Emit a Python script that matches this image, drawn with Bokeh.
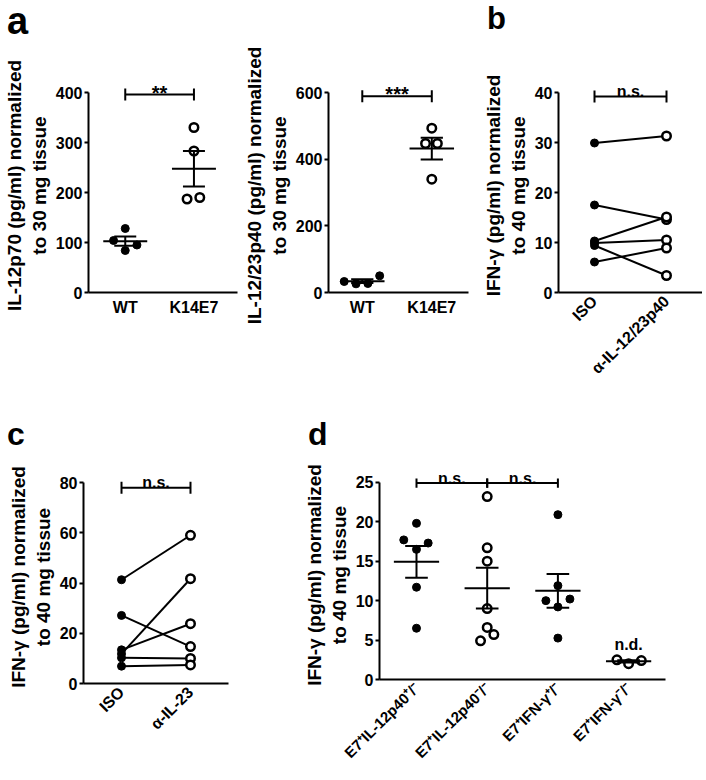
import math
import numpy as np
from bokeh.plotting import figure
from bokeh.models import FixedTicker, Range1d, Div
from bokeh.layouts import row, column
from bokeh.embed import file_html
from bokeh.resources import INLINE
from bokeh.core.properties import value

FONT = "Liberation Sans"

# ---------------- data ----------------
# panel a (left): IL-12p70
a1_groups = ["WT", "K14E7"]
a1_wt = [128, 104, 95, 84]
a1_k14 = [330, 283, 187, 190]
a1_wt_jit = [0, -0.17, 0.17, 0]
a1_k14_jit = [0, 0, -0.1, 0.085]
a1_ticks = [0, 100, 200, 300, 400]
a1_sig = "**"

# panel a (right): IL-12/23p40
a2_groups = ["WT", "K14E7"]
a2_wt = [33, 26, 27, 50]
a2_k14 = [493, 447, 447, 340]
a2_wt_jit = [-0.26, -0.09, 0.08, 0.25]
a2_k14_jit = [0, -0.09, 0.08, 0]
a2_ticks = [0, 200, 400, 600]
a2_sig = "***"

# panel b: paired ISO vs anti-IL-12/23p40
b_groups = ["ISO", "α-IL-12/23p40"]
b_iso = [29.9, 17.5, 10.3, 9.9, 9.4, 6.1]
b_anti = [31.3, 14.6, 15.1, 10.5, 3.4, 8.9]
b_ticks = [0, 10, 20, 30, 40]

# panel c: paired ISO vs anti-IL-23
c_groups = ["ISO", "α-IL-23"]
c_iso = [41.3, 27.1, 13.4, 11.8, 10.2, 6.9]
c_anti = [59.0, 14.7, 23.8, 41.7, 10.0, 7.4]
c_ticks = [0, 20, 40, 60, 80]

# panel d
d_groups = ["E7⁺IL-12p40⁺/⁻", "E7⁺IL-12p40⁻/⁻", "E7⁺IFN-γ⁺/⁻", "E7⁺IFN-γ⁻/⁻"]
d_g1 = [19.8, 17.7, 17.3, 16.5, 11.7, 6.5]
d_g2 = [23.2, 16.7, 15.0, 9.0, 6.6, 5.7, 4.9]
d_g3 = [20.9, 11.9, 10.0, 10.2, 9.2, 5.25]
d_g4 = [2.5, 2.0, 2.4]
d_g1_jit = [0, -0.18, 0.165, 0, 0, 0]
d_g2_jit = [0, 0, 0, 0, 0, 0.094, -0.094]
d_g3_jit = [0, 0, -0.17, 0.17, 0, 0]
d_g4_jit = [-0.165, 0, 0.18]
d_ticks = [0, 5, 10, 15, 20, 25]

YLAB_A1 = "IL-12p70 (pg/ml) normalized\nto 30 mg tissue"
YLAB_A2 = "IL-12/23p40 (pg/ml) normalized\nto 30 mg tissue"
YLAB_IFN = "IFN-γ (pg/ml) normalized\nto 40 mg tissue"


def make_panel(width, height, bl, br, bt, bb, xr, yr, yticks, xlabels, ylabel,
               rotate=False, xfs="16px"):
    p = figure(width=width, height=height, x_range=Range1d(*xr), y_range=Range1d(*yr),
               output_backend="svg", toolbar_location=None, tools="",
               min_border_left=bl, min_border_right=br, min_border_top=bt,
               min_border_bottom=bb)
    p.outline_line_color = None
    p.grid.visible = False
    p.background_fill_color = "white"
    p.border_fill_color = "white"
    ya = p.yaxis[0]
    ya.ticker = FixedTicker(ticks=yticks)
    ya.bounds = (yticks[0], yticks[-1])
    ya.minor_tick_line_color = None
    ya.major_tick_in = 0
    ya.major_tick_out = 4
    ya.major_tick_line_width = 2
    ya.axis_line_width = 2
    ya.major_label_standoff = 2
    ya.major_label_text_font = FONT
    ya.major_label_text_font_style = "bold"
    ya.major_label_text_font_size = "16px"
    ya.major_label_text_color = "black"
    ya.axis_label = ylabel
    ya.axis_label_text_font = FONT
    ya.axis_label_text_font_style = "bold"
    ya.axis_label_text_font_size = "19px"
    ya.axis_label_text_color = "black"
    ya.axis_label_standoff = 3
    xa = p.xaxis[0]
    xa.ticker = FixedTicker(ticks=[i + 1 for i in range(len(xlabels))])
    xa.major_label_overrides = {i + 1: lab for i, lab in enumerate(xlabels)}
    xa.major_tick_in = 0
    xa.major_tick_out = 0
    xa.minor_tick_line_color = None
    xa.axis_line_width = 2
    xa.major_label_text_font = FONT
    xa.major_label_text_font_style = "bold"
    xa.major_label_text_font_size = xfs
    xa.major_label_text_color = "black"
    xa.major_label_standoff = 6
    if rotate:
        xa.major_label_orientation = math.pi / 4
    return p


def scatter_group(p, xc, vals, jit, filled):
    xs = [xc + j for j in jit]
    if filled:
        p.scatter(xs, vals, size=8, marker="circle", fill_color="black", line_color="black")
    else:
        p.scatter(xs, vals, size=8.5, marker="circle", fill_color="white",
                  line_color="black", line_width=2.5)
    v = np.array(vals, dtype=float)
    m = v.mean()
    s = v.std(ddof=1) / math.sqrt(len(v))
    p.segment([xc - 0.32], [m], [xc + 0.32], [m], line_color="black", line_width=2)
    p.segment([xc], [m - s], [xc], [m + s], line_color="black", line_width=2)
    p.segment([xc - 0.16, xc - 0.16], [m - s, m + s], [xc + 0.16, xc + 0.16], [m - s, m + s],
              line_color="black", line_width=2)


def bracket(p, x0, x1, y, cap, label, label_dy, fs="16px"):
    p.segment([x0], [y], [x1], [y], line_color="black", line_width=2)
    p.segment([x0, x1], [y - cap, y - cap], [x0, x1], [y + cap, y + cap],
              line_color="black", line_width=2)
    p.text([(x0 + x1) / 2], [y + label_dy], text=[label], text_align="center",
           text_baseline="alphabetic", text_font=value(FONT), text_font_style="bold",
           text_font_size=fs, text_color="black")


def letter_div(txt, width, height, fs, lh, pad_left, pad_top):
    html = ("<div style=\"font-family:'Liberation Sans',Arial,sans-serif;font-weight:bold;"
            f"font-size:{fs}px;line-height:{lh}px;padding-left:{pad_left}px;"
            f"padding-top:{pad_top}px;margin:0;color:black\">{txt}</div>")
    return Div(text=html, width=width, height=height, margin=0)


def paired(p, left, right):
    for a, b in zip(left, right):
        p.line([1, 2], [a, b], line_color="black", line_width=2)
    p.scatter([1] * len(left), left, size=8, marker="circle", fill_color="black",
              line_color="black")
    p.scatter([2] * len(right), right, size=8.5, marker="circle", fill_color="white",
              line_color="black", line_width=2.5)


# ---------------- panel a1 ----------------
pa1 = make_panel(240, 360, 83, 3, 38, 108, (0.465, 2.634), (0, 428), a1_ticks, a1_groups,
                 YLAB_A1)
scatter_group(pa1, 1, a1_wt, a1_wt_jit, True)
scatter_group(pa1, 2, a1_k14, a1_k14_jit, False)
bracket(pa1, 1, 2, 396, 12, a1_sig, 4, fs="20px")

# ---------------- panel a2 ----------------
pa2 = make_panel(230, 400, 83, 2, 78, 108, (0.514, 2.528), (0, 642), a2_ticks, a2_groups,
                 YLAB_A2)
scatter_group(pa2, 1, a2_wt, a2_wt_jit, True)
scatter_group(pa2, 2, a2_k14, a2_k14_jit, False)
bracket(pa2, 1, 2, 589, 18, a2_sig, 6, fs="20px")

# ---------------- panel b ----------------
pb = make_panel(232, 360, 88, 0, 38, 108, (0.5, 2.5), (0, 42.8), b_ticks, b_groups, YLAB_IFN,
                rotate=True)
paired(pb, b_iso, b_anti)
bracket(pb, 1, 2, 39.2, 1.2, "n.s.", 1.0)

# ---------------- panel c ----------------
pc = make_panel(240, 320, 83, 12, 20, 87, (0.449, 2.551), (0, 84.78), c_ticks, c_groups,
                YLAB_IFN, rotate=True)
paired(pc, c_iso, c_anti)
bracket(pc, 1, 2, 77.9, 2.4, "n.s.", 2.0)

# ---------------- panel d ----------------
pd_ = make_panel(462, 320, 139, 37, 20, 87, (0.4767, 4.522), (0, 26.5), d_ticks, d_groups,
                 YLAB_IFN, rotate=True, xfs="15px")
scatter_group(pd_, 1, d_g1, d_g1_jit, True)
scatter_group(pd_, 2, d_g2, d_g2_jit, False)
scatter_group(pd_, 3, d_g3, d_g3_jit, True)
scatter_group(pd_, 4, d_g4, d_g4_jit, False)
bracket(pd_, 1, 2, 24.9, 0.6, "n.s.", 0.62)
bracket(pd_, 2, 3, 24.9, 0.6, "n.s.", 0.62)
pd_.text([4], [4.5], text=["n.d."], text_align="center", text_baseline="alphabetic",
         text_font=value(FONT), text_font_style="bold", text_font_size="16px", text_color="black")

div_a = letter_div("a", 240, 40, 38, 43, 7, 0)
div_b = letter_div("b", 232, 40, 31, 38, 17, 0)
div_c = letter_div("c", 240, 50, 32, 32, 7, 18)
div_d = letter_div("d", 462, 50, 32, 32, 68, 18)

layout = column(
    row(column(div_a, pa1), pa2, column(div_b, pb)),
    row(column(div_c, pc), column(div_d, pd_)),
)
open("out.html", "w").write(file_html(layout, INLINE))
